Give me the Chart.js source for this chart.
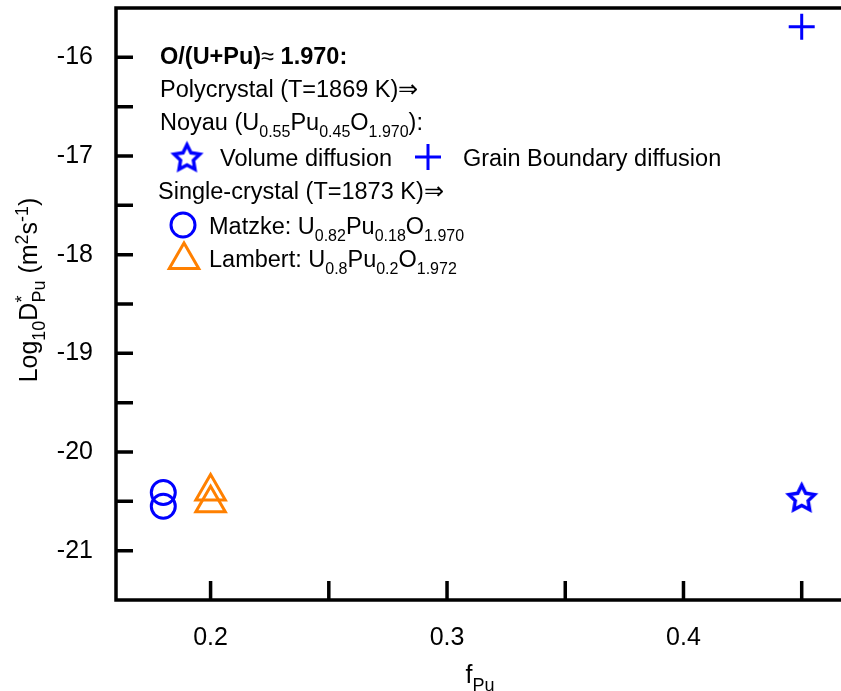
<!DOCTYPE html>
<html>
<head>
<meta charset="utf-8">
<script src="https://cdn.jsdelivr.net/npm/chart.js@4.4.0/dist/chart.umd.min.js"></script>
<style>
  html, body { margin: 0; padding: 0; background: #fff; overflow: hidden; }
  #wrap { width: 870px; height: 691px; }
</style>
</head>
<body>
<div id="wrap"><canvas id="chart" width="870" height="691"></canvas></div>
<script>
// axis ticks
const xTicks = [0.2, 0.25, 0.3, 0.35, 0.4, 0.45];
const xTickLabels = ['0.2', '', '0.3', '', '0.4', ''];
const yTicks = [-21, -20.5, -20, -19.5, -19, -18.5, -18, -17.5, -17, -16.5, -16];
const yTickLabels = ['-21', '', '-20', '', '-19', '', '-18', '', '-17', '', '-16'];

// log10 D*Pu values vs Pu fraction
const matzkeX = [0.18, 0.18];
const matzkeY = [-20.41, -20.55];
const lambertX = [0.2, 0.2];
const lambertY = [-20.40, -20.52];
const volumeX = [0.45];
const volumeY = [-20.46];
const grainX = [0.45];
const grainY = [-15.69];

const BLUE = '#0000ff';
const ORANGE = '#ff8000';
const FONT = '"Liberation Sans", Arial, sans-serif';

function makeStar(r, color) {
  const c = document.createElement('canvas');
  const size = Math.ceil(r * 2 + 8);
  c.width = c.height = size;
  const g = c.getContext('2d');
  const cx = size / 2, cy = size / 2 + r * 0.095;
  g.strokeStyle = color;
  g.lineWidth = 3.5;
  g.lineJoin = 'miter';
  g.beginPath();
  for (let i = 0; i < 10; i++) {
    const rad = i % 2 ? r * 0.5 : r;
    const a = -Math.PI / 2 + i * Math.PI / 5;
    const px = cx + Math.cos(a) * rad, py = cy + Math.sin(a) * rad;
    if (i === 0) g.moveTo(px, py); else g.lineTo(px, py);
  }
  g.closePath();
  g.stroke();
  return c;
}
const starImg = makeStar(13.5, BLUE);

function toPts(xs, ys) {
  return xs.map((v, i) => ({ x: v, y: ys[i] }));
}

// text with sub/superscripts: parts are [text, kind] with kind '', 'b', 'sub', 'sup', or
// ['stack', sup, sub] for indices sharing one position
function richText(ctx, parts, x, y, size, align) {
  const small = Math.round(size * 0.7);
  const font = (s, b) => (b ? 'bold ' : '') + s + 'px ' + FONT;
  const widths = parts.map(p => {
    if (p[0] === 'stack') {
      ctx.font = font(small);
      return Math.max(ctx.measureText(p[1]).width, ctx.measureText(p[2]).width);
    }
    ctx.font = font(p[1] === 'sub' || p[1] === 'sup' ? small : size, p[1] === 'b');
    return ctx.measureText(p[0]).width;
  });
  const total = widths.reduce((a, b) => a + b, 0);
  let cx = align === 'center' ? x - total / 2 : x;
  ctx.textAlign = 'left';
  ctx.textBaseline = 'alphabetic';
  parts.forEach((p, i) => {
    if (p[0] === 'stack') {
      ctx.font = font(small);
      ctx.fillText(p[1], cx, y - size * 0.38);
      ctx.fillText(p[2], cx, y + size * 0.3);
    } else if (p[1] === 'sub') {
      ctx.font = font(small);
      ctx.fillText(p[0], cx, y + size * 0.3);
    } else if (p[1] === 'sup') {
      ctx.font = font(small);
      ctx.fillText(p[0], cx, y - size * 0.38);
    } else {
      ctx.font = font(size, p[1] === 'b');
      ctx.fillText(p[0], cx, y);
    }
    cx += widths[i];
  });
}

const legendLines = [
  { x: 160, y: 64, parts: [['O/(U+Pu)', 'b'], ['\u2248 ', ''], ['1.970:', 'b']] },
  { x: 160, y: 97, parts: [['Polycrystal (T=1869 K)\u21D2', '']] },
  { x: 160, y: 130, parts: [['Noyau (U', ''], ['0.55', 'sub'], ['Pu', ''], ['0.45', 'sub'], ['O', ''], ['1.970', 'sub'], ['):', '']] },
  { x: 220, y: 166, parts: [['Volume diffusion', '']] },
  { x: 463, y: 166, parts: [['Grain Boundary diffusion', '']] },
  { x: 158, y: 199, parts: [['Single-crystal (T=1873 K)\u21D2', '']] },
  { x: 209, y: 234, parts: [['Matzke: U', ''], ['0.82', 'sub'], ['Pu', ''], ['0.18', 'sub'], ['O', ''], ['1.970', 'sub']] },
  { x: 209, y: 267, parts: [['Lambert: U', ''], ['0.8', 'sub'], ['Pu', ''], ['0.2', 'sub'], ['O', ''], ['1.972', 'sub']] }
];
const legendMarks = [
  { ds: 2, x: 187, y: 157 },
  { ds: 3, x: 428, y: 157 },
  { ds: 0, x: 183, y: 225 },
  { ds: 1, x: 184, y: 260 }
];

const framePlugin = {
  id: 'frame',
  beforeDatasetsDraw(chart) {
    const { ctx, chartArea: a, scales: { x, y } } = chart;
    ctx.save();
    ctx.strokeStyle = '#000';
    ctx.lineWidth = 3.5;
    ctx.strokeRect(a.left, a.top, a.right - a.left, a.bottom - a.top);
    ctx.beginPath();
    xTicks.forEach(v => {
      const px = x.getPixelForValue(v);
      ctx.moveTo(px, a.bottom);
      ctx.lineTo(px, a.bottom - 19);
    });
    yTicks.forEach(v => {
      const py = y.getPixelForValue(v);
      ctx.moveTo(a.left, py);
      ctx.lineTo(a.left + 17, py);
    });
    ctx.stroke();

    // tick labels
    ctx.fillStyle = '#000';
    ctx.font = '25px ' + FONT;
    ctx.textAlign = 'center';
    ctx.textBaseline = 'alphabetic';
    xTicks.forEach((v, i) => ctx.fillText(xTickLabels[i], x.getPixelForValue(v), a.bottom + 45));
    ctx.textAlign = 'right';
    ctx.textBaseline = 'middle';
    yTicks.forEach((v, i) => ctx.fillText(yTickLabels[i], a.left - 23, y.getPixelForValue(v)));
    ctx.restore();
  },
  afterDraw(chart) {
    const { ctx } = chart;
    ctx.save();
    ctx.fillStyle = '#000';
    legendLines.forEach(l => richText(ctx, l.parts, l.x, l.y, 23.5, 'left'));

    legendMarks.forEach(m => {
      const ds = chart.data.datasets[m.ds];
      ctx.strokeStyle = ds.borderColor;
      ctx.fillStyle = 'rgba(0,0,0,0)';
      ctx.lineWidth = ds.borderWidth;
      Chart.helpers.drawPoint(ctx, {
        pointStyle: ds.pointStyle, radius: ds.pointRadius, borderWidth: ds.borderWidth, rotation: 0
      }, m.x, m.y);
    });

    // axis titles
    ctx.fillStyle = '#000';
    richText(ctx, [['f', ''], ['Pu', 'sub']], 480, 683, 25, 'center');
    ctx.translate(37, 290);
    ctx.rotate(-Math.PI / 2);
    richText(ctx, [['Log', ''], ['10', 'sub'], ['D', ''], ['stack', '*', 'Pu'], [' (m', ''], ['2', 'sup'], ['s', ''], ['-1', 'sup'], [')', '']], 0, 0, 25, 'center');
    ctx.restore();
  }
};

new Chart(document.getElementById('chart'), {
  type: 'scatter',
  data: {
    datasets: [
      { label: 'Matzke', data: toPts(matzkeX, matzkeY), pointStyle: 'circle', pointRadius: 12,
        borderColor: BLUE, backgroundColor: 'rgba(0,0,0,0)', borderWidth: 3 },
      { label: 'Lambert', data: toPts(lambertX, lambertY), pointStyle: 'triangle', pointRadius: 17,
        borderColor: ORANGE, backgroundColor: 'rgba(0,0,0,0)', borderWidth: 3 },
      { label: 'Volume diffusion', data: toPts(volumeX, volumeY), pointStyle: starImg, pointRadius: 14,
        borderColor: BLUE, backgroundColor: 'rgba(0,0,0,0)', borderWidth: 3 },
      { label: 'Grain Boundary diffusion', data: toPts(grainX, grainY), pointStyle: 'cross', pointRadius: 13,
        borderColor: BLUE, backgroundColor: 'rgba(0,0,0,0)', borderWidth: 3 }
    ]
  },
  options: {
    responsive: false,
    animation: false,
    layout: { autoPadding: false, padding: { top: 8, right: 21, left: 0, bottom: 0 } },
    plugins: { legend: { display: false }, tooltip: { enabled: false } },
    scales: {
      x: {
        type: 'linear', min: 0.16, max: 0.47,
        afterFit: s => { s.height = 91; },
        grid: { display: false, drawTicks: false },
        border: { display: false },
        ticks: { display: false }
      },
      y: {
        type: 'linear', min: -21.5, max: -15.5,
        afterFit: s => { s.width = 116; },
        grid: { display: false, drawTicks: false },
        border: { display: false },
        ticks: { display: false }
      }
    }
  },
  plugins: [framePlugin]
});
</script>
</body>
</html>
